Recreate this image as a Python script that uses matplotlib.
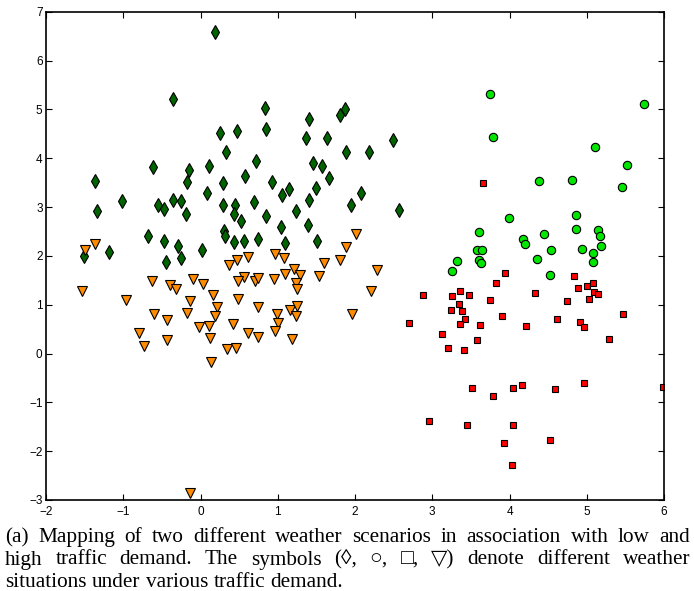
import matplotlib
matplotlib.use('Agg')
import matplotlib.pyplot as plt

# diamonds (dark green)
dia_x = [0.19, -0.36, 0.25, 0.47, 0.33, -0.61, -0.15, 0.106, -1.37, -0.18, 0.29, 0.084, -1.01,
         0.84, 1.87, 1.80, 1.40, 0.85, 1.37, 1.64, 2.49, 1.88, 2.18, 0.72, 1.46, 1.57, 0.57, 1.66,
         0.93, 1.14, 1.50, 1.05, 2.08, -1.34, -0.55, -0.47, -0.36, -0.25, -0.19, 0.287, 0.45, 0.43,
         0.31, 0.32, 0.43, -0.68, -0.47, -0.29, 0.016, -1.19, -1.51, -0.45, -0.25, 0.69, 1.41,
         1.944, 2.57, 0.52, 0.85, 1.24, 1.04, 1.39, 0.56, 0.74, 1.10, 1.51]
dia_y = [6.59, 5.21, 4.52, 4.56, 4.12, 3.82, 3.75, 3.85, 3.54, 3.51, 3.50, 3.28, 3.12,
         5.02, 5.01, 4.89, 4.80, 4.59, 4.41, 4.41, 4.37, 4.13, 4.13, 3.94, 3.90, 3.84, 3.64, 3.59,
         3.51, 3.38, 3.39, 3.25, 3.29, 2.92, 3.05, 2.97, 3.14, 3.12, 2.86, 3.05, 3.05, 2.85,
         2.52, 2.40, 2.28, 2.40, 2.30, 2.21, 2.13, 2.08, 2.00, 1.87, 1.95, 3.11, 3.14,
         3.04, 2.95, 2.71, 2.82, 2.92, 2.59, 2.63, 2.30, 2.35, 2.26, 2.31]

# circles (light green)
cir_x = [3.75, 5.745, 3.79, 5.107, 5.52, 5.45, 4.38, 4.805, 3.99, 4.86, 4.86, 5.146, 5.17, 5.19,
         4.94, 5.085, 5.085, 3.61, 4.17, 4.20, 4.44, 4.54, 3.58, 3.65, 4.35, 3.60, 3.63, 3.32,
         3.25, 4.53]
cir_y = [5.31, 5.11, 4.44, 4.24, 3.87, 3.41, 3.54, 3.56, 2.77, 2.84, 2.56, 2.53, 2.41, 2.20,
         2.15, 2.06, 1.87, 2.49, 2.35, 2.25, 2.45, 2.12, 2.13, 2.12, 1.94, 1.92, 1.85, 1.89,
         1.70, 1.61]

# squares (red)
sq_x = [3.66, 3.94, 3.82, 4.83, 2.88, 3.26, 3.36, 3.47, 3.75, 4.33, 4.89, 5.00, 5.08, 5.10,
        5.14, 5.03, 4.74, 3.34, 3.24, 3.39, 3.43, 3.36, 2.70, 3.13, 3.20, 3.41, 3.58, 3.62,
        3.90, 4.21, 4.62, 4.91, 4.97, 5.47, 5.29, 3.52, 3.79, 4.05, 4.16, 4.59, 4.97, 5.99,
        2.96, 3.45, 4.04, 4.53, 3.93, 4.03]
sq_y = [3.50, 1.65, 1.45, 1.59, 1.19, 1.17, 1.28, 1.20, 1.10, 1.25, 1.34, 1.38, 1.44, 1.27,
        1.22, 1.12, 1.08, 1.01, 0.89, 0.88, 0.70, 0.61, 0.63, 0.41, 0.12, 0.08, 0.28, 0.59,
        0.77, 0.57, 0.70, 0.65, 0.54, 0.82, 0.30, -0.71, -0.86, -0.71, -0.64, -0.73, -0.61, -0.69,
        -1.38, -1.46, -1.46, -1.78, -1.83, -2.28]

# triangles (orange)
tri_x = [-1.37, -1.50, -1.54, -0.97, -0.63, -0.39, -0.32, -0.10, 0.036, -0.14, 0.158, 0.21,
         -0.60, -0.44, -0.17, 0.19, -0.016, 0.106, -0.80, -0.44, 0.12, -0.73, 0.136, 0.347,
         0.456, 0.37, 0.47, 0.42, -0.136, 2.01, 1.88, 1.80, 1.60, 2.28, 2.21, 1.96, 0.97, 1.08,
         0.61, 1.21, 1.29, 1.09, 1.53, 0.56, 0.485, 0.70, 0.75, 0.95, 1.23, 1.245, 0.485, 0.75,
         0.99, 1.16, 1.245, 1.23, 1.00, 0.97, 0.61, 0.75, 1.19]
tri_y = [2.24, 2.13, 1.28, 1.10, 1.49, 1.40, 1.32, 1.52, 1.42, 1.08, 1.19, 0.96,
         0.82, 0.69, 0.84, 0.77, 0.54, 0.57, 0.43, 0.27, 0.31, 0.15, -0.18, 0.09,
         0.11, 1.81, 1.91, 0.60, -2.86, 2.45, 2.19, 1.91, 1.85, 1.71, 1.29, 0.82, 2.04, 1.95,
         1.98, 1.74, 1.61, 1.63, 1.58, 1.56, 1.49, 1.48, 1.54, 1.53, 1.44, 1.33, 1.12, 0.95,
         0.82, 0.90, 0.98, 0.76, 0.62, 0.47, 0.43, 0.33, 0.30]

caption = [
    "(a) Mapping of two different weather scenarios in association with low and",
    "high traffic demand. The symbols (\u25CA, \u25CB, \u25A1, \u25BD) denote different weather",
    "situations under various traffic demand.",
]

fig = plt.figure(figsize=(6.94, 5.91), dpi=100)
ax = fig.add_axes([0.0663, 0.154, 0.8905, 0.826])

ax.plot(dia_x, dia_y, ls='none', marker='d', ms=7.5, mfc='#006400', mec='k', mew=0.8)
ax.plot(cir_x, cir_y, ls='none', marker='o', ms=6, mfc='#00e600', mec='k', mew=0.8)
ax.plot(sq_x, sq_y, ls='none', marker='s', ms=5, mfc='#ff0000', mec='k', mew=0.8)
ax.plot(tri_x, tri_y, ls='none', marker='v', ms=6.5, mfc='#ff8c00', mec='k', mew=0.8)

ax.set_xlim(-2, 6)
ax.set_ylim(-3, 7)
ax.set_xticks(range(-2, 7))
ax.set_yticks(range(-3, 8))
ax.tick_params(direction='in', top=True, right=True, length=4, width=0.8, labelsize=8.5, pad=2.5)
ax.tick_params(axis='x', pad=4.5)
for lab in ax.get_xticklabels() + ax.get_yticklabels():
    lab.set_family('Liberation Sans')
for s in ax.spines.values():
    s.set_linewidth(1.2)

# justified caption, word by word
fs = 15.3
fam = ['Liberation Serif', 'DejaVu Sans']
x0, x1 = 5, 690
baselines = [542, 564.5, 587]
W, H = fig.get_size_inches() * fig.dpi
r = fig.canvas.get_renderer()


def width(s):
    t = fig.text(0, 0, s, fontsize=fs, family=fam)
    w = t.get_window_extent(r).width
    t.remove()
    return w


space = width("a a") - width("aa")
for i, line in enumerate(caption):
    words = line.split(" ")
    ws = [width(w) for w in words]
    if i < len(caption) - 1:
        gap = (x1 - x0 - sum(ws)) / (len(words) - 1)
    else:
        gap = space
    x = x0
    for w, wd in zip(words, ws):
        fig.text(x / W, 1 - baselines[i] / H, w, fontsize=fs, family=fam, va='baseline')
        x += wd + gap

fig.savefig('out.png', dpi=100)
